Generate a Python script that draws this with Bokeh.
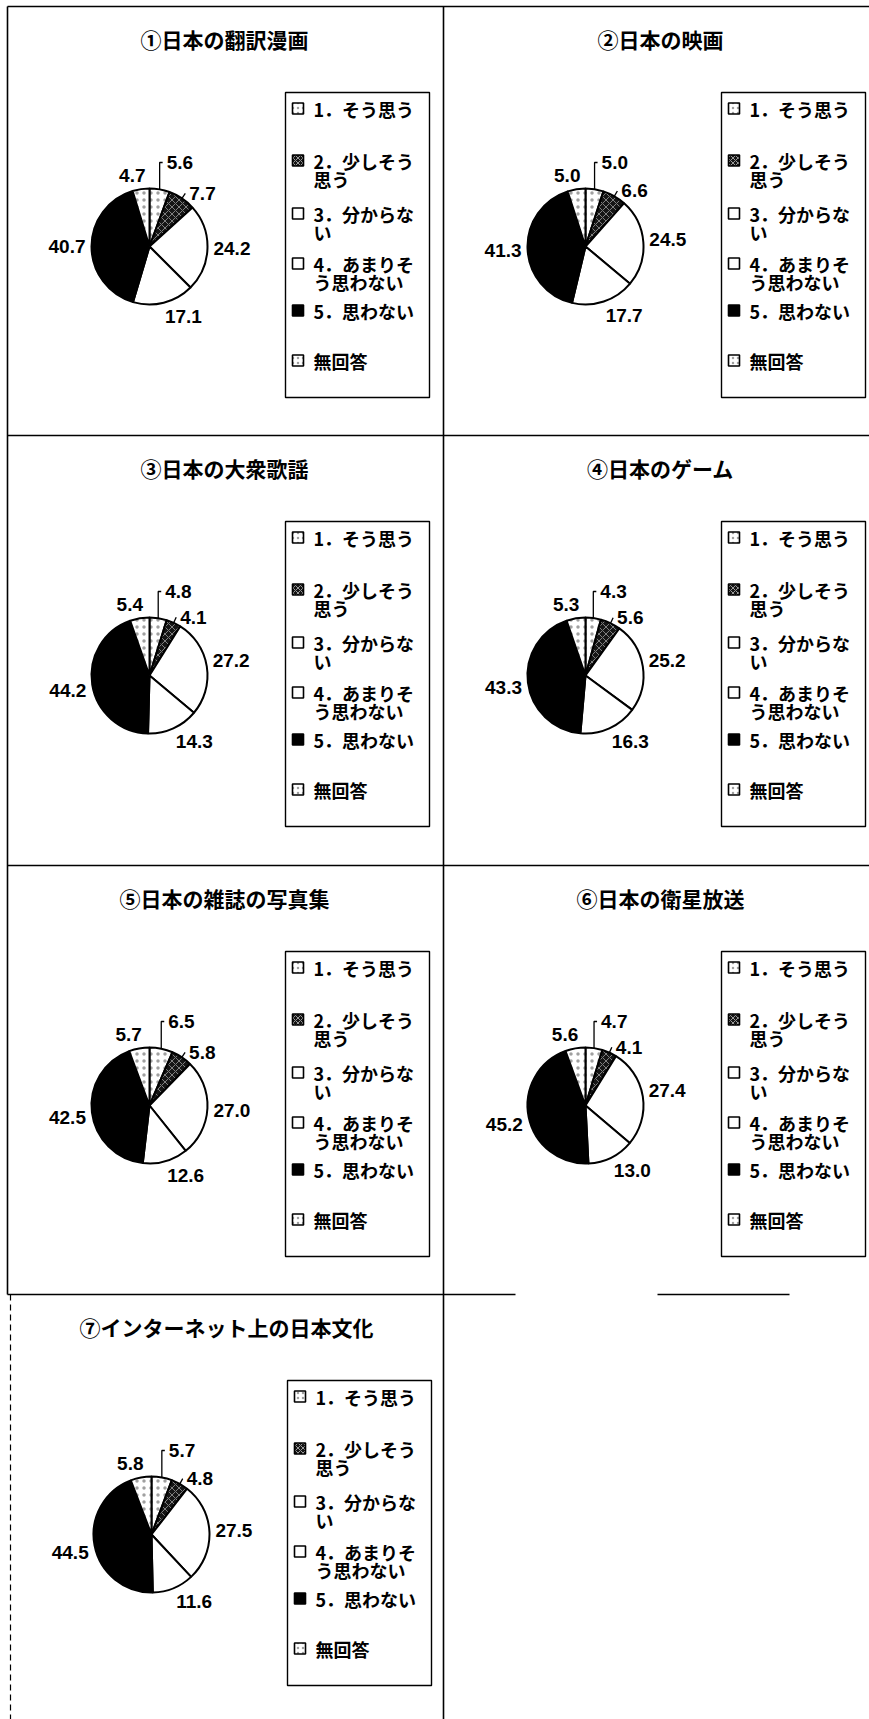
import math
from bokeh.plotting import figure
from bokeh.models import Range1d, ColumnDataSource
from bokeh.embed import file_html
from bokeh.resources import INLINE
from bokeh.core.properties import value

# ---------------- data ----------------
titles = ["①日本の翻訳漫画", "②日本の映画", "③日本の大衆歌謡", "④日本のゲーム",
          "⑤日本の雑誌の写真集", "⑥日本の衛星放送", "⑦インターネット上の日本文化"]
categories = ["1．そう思う", "2．少しそう\n思う", "3．分からな\nい",
              "4．あまりそ\nう思わない", "5．思わない", "無回答"]
manga = [5.6, 7.7, 24.2, 17.1, 40.7, 4.7]
movie = [5.0, 6.6, 24.5, 17.7, 41.3, 5.0]
song = [4.8, 4.1, 27.2, 14.3, 44.2, 5.4]
game = [4.3, 5.6, 25.2, 16.3, 43.3, 5.3]
photo = [6.5, 5.8, 27.0, 12.6, 42.5, 5.7]
satellite = [4.7, 4.1, 27.4, 13.0, 45.2, 5.6]
internet = [5.7, 4.8, 27.5, 11.6, 44.5, 5.8]
panels = [manga, movie, song, game, photo, satellite, internet]

# ---------------- styles ----------------
fills = ["white", "#151515", "white", "white", "black", "white"]
hatches = ["dot", "diagonal_cross", "blank", "blank", "blank", "dot"]
hatch_colors = ["#a0a0a0", "#9a9a9a", "white", "white", "black", "#a0a0a0"]

W, H = 869, 1719
JP = value("Noto Sans CJK JP")
NUM = value("Liberation Sans")


def X(xr):
    return xr


def Y(yr):
    return H - yr


p = figure(width=W, height=H, output_backend="svg", toolbar_location=None,
           x_range=Range1d(0, W), y_range=Range1d(0, H),
           x_axis_type=None, y_axis_type=None, min_border=0,
           outline_line_color=None, background_fill_color="white")
p.grid.visible = False

# ---------------- frame lines (layout) ----------------
seg_x0 = [7, 7, 443, 7, 7, 7, 657]
seg_y0 = [6, 6, 6, 435, 865, 1294, 1294]
seg_x1 = [869, 7, 443, 869, 869, 515, 789]
seg_y1 = [6, 1294, 1719, 435, 865, 1294, 1294]
p.segment(x0=[X(v) for v in seg_x0], y0=[Y(v) for v in seg_y0],
          x1=[X(v) for v in seg_x1], y1=[Y(v) for v in seg_y1],
          line_color="black", line_width=1.6)
p.segment(x0=[X(10)], y0=[Y(1294)], x1=[X(10)], y1=[Y(1719)],
          line_color="black", line_width=1.2, line_dash="6 4")

origins = [(7, 6), (443, 6), (7, 435), (443, 435), (7, 865), (443, 865), (9, 1294)]
R = 58
item_off = [16, 68, 121, 171, 218, 268]
line_gap = 18.5

for k, vals in enumerate(panels):
    x0, y0 = origins[k]
    cx, cy = x0 + 142, y0 + 240
    total = sum(vals)
    cum = 0.0
    starts, ends, mids = [], [], []
    for v in vals:
        a0 = cum / total
        cum += v
        a1 = cum / total
        starts.append(math.pi / 2 - 2 * math.pi * a0)
        ends.append(math.pi / 2 - 2 * math.pi * a1)
        mids.append(math.pi * (a0 + a1))
    src = ColumnDataSource(dict(x=[X(cx)] * 6, y=[Y(cy)] * 6, s=starts, e=ends,
                                fill=fills, hatch=hatches, hc=hatch_colors))
    p.wedge(x="x", y="y", radius=R, start_angle="s", end_angle="e",
            direction="clock", fill_color="fill", line_color="black",
            line_width=2, hatch_pattern="hatch", hatch_color="hc",
            hatch_scale=7, hatch_weight=0.8, source=src)

    # title
    p.text(x=[X(x0 + 217)], y=[Y(y0 + 32)], text=[titles[k]],
           text_font=JP, text_font_style="bold", text_font_size="21px",
           text_align="center", text_baseline="middle", text_color="black")

    # value labels
    lx, ly, lt, la = [], [], [], []
    lead_xs, lead_ys = [], []
    for i, v in enumerate(vals):
        th = mids[i]
        s, c = math.sin(th), math.cos(th)
        txt = f"{v:.1f}"
        if i == 0:
            px, py = cx + R * s, cy - R * c
            yt = cy - R - 26
            lead_xs.append([X(px), X(px), X(px + 3)])
            lead_ys.append([Y(py), Y(yt), Y(yt)])
            lx.append(X(px + 7)); ly.append(Y(yt)); lt.append(txt); la.append("left")
        elif i == 1:
            px, py = cx + R * s, cy - R * c
            qx, qy = cx + (R + 6) * s, cy - (R + 6) * c
            lead_xs.append([X(px), X(qx)])
            lead_ys.append([Y(py), Y(qy)])
            lx.append(X(qx + 4)); ly.append(Y(qy)); lt.append(txt); la.append("left")
        else:
            ax, ay = cx + 64 * s, cy - 64 * c
            w = 19 * (0.556 * (len(txt) - 1) + 0.278)
            sx = max(-1.0, min(1.0, 4 * s))
            sy = max(-1.0, min(1.0, -4 * c))
            lx.append(X(ax + w / 2 * sx)); ly.append(Y(ay + 8 * sy))
            lt.append(txt); la.append("center")
    p.multi_line(xs=lead_xs, ys=lead_ys, line_color="black", line_width=1.3)
    p.text(x=lx, y=ly, text=lt, text_align=la, text_baseline="middle",
           text_font=NUM, text_font_style="bold", text_font_size="19px",
           text_color="black")

    # legend box
    bl, bt, br, bb = x0 + 278, y0 + 86, x0 + 422, y0 + 391
    p.quad(left=[X(bl)], right=[X(br)], top=[Y(bt)], bottom=[Y(bb)],
           fill_color="white", line_color="black", line_width=1.4)
    mx, my = [], []
    tx, ty, tt = [], [], []
    for i, cat in enumerate(categories):
        yc = bt + item_off[i]
        mx.append(X(bl + 12.5)); my.append(Y(yc))
        for j, part in enumerate(cat.split("\n")):
            tx.append(X(bl + 28))
            ty.append(Y(yc + j * line_gap))
            tt.append(part)
    msrc = ColumnDataSource(dict(x=mx, y=my, fill=fills, hatch=hatches, hc=hatch_colors))
    p.rect(x="x", y="y", width=11, height=11, fill_color="fill",
           line_color="black", line_width=1.6, hatch_pattern="hatch",
           hatch_color="hc", hatch_scale=5, hatch_weight=1, source=msrc)
    p.text(x=tx, y=ty, text=tt, text_align="left", text_baseline="middle",
           text_font=JP, text_font_style="bold", text_font_size="18px",
           text_color="black")

open("out.html", "w").write(file_html(p, INLINE))
